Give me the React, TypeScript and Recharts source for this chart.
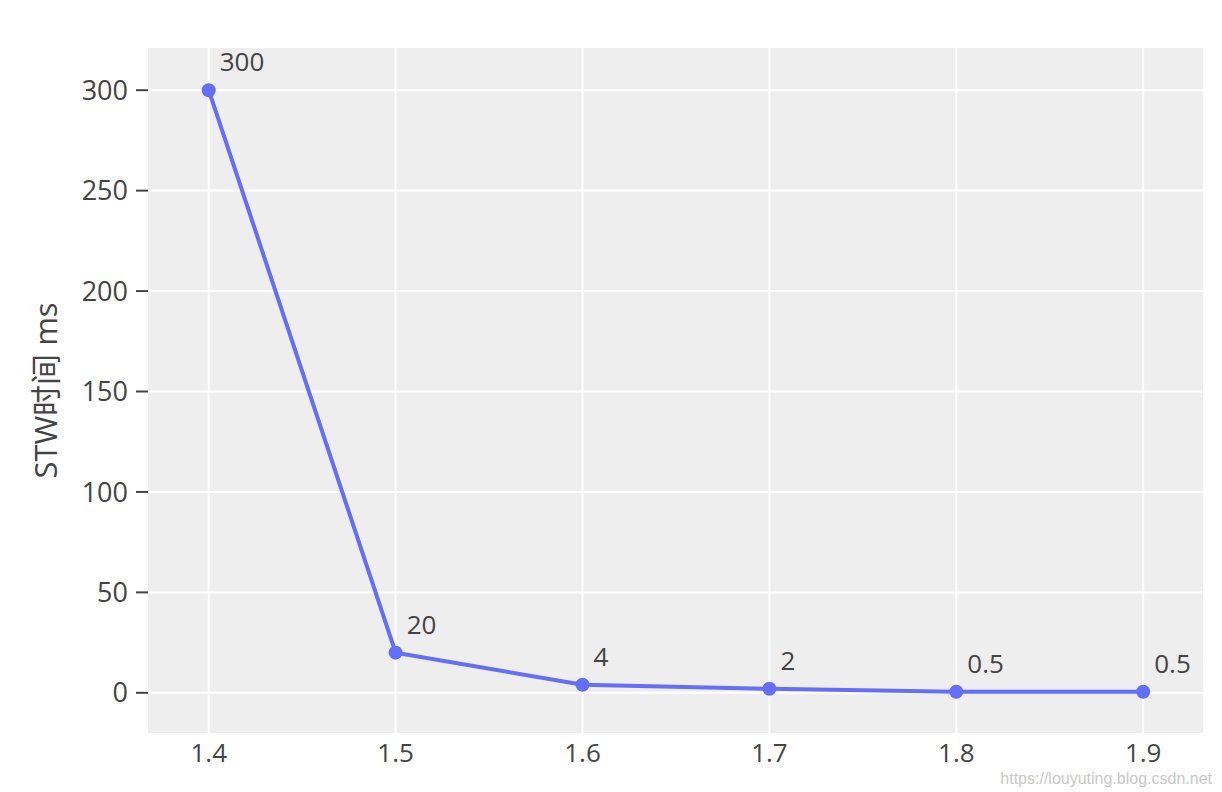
import React from 'react';
import { LineChart, Line, XAxis, YAxis, CartesianGrid, LabelList, Label } from 'recharts';

const versions = [1.4, 1.5, 1.6, 1.7, 1.8, 1.9];
const stwMs = [300, 20, 4, 2, 0.5, 0.5];
const xTicks = [1.4, 1.5, 1.6, 1.7, 1.8, 1.9];
const yTicks = [0, 50, 100, 150, 200, 250, 300];
const yLabel = 'STW时间 ms';
const watermark = 'https://louyuting.blog.csdn.net';

const data = versions.map((v, i) => ({ x: v, y: stwMs[i] }));

const FONT = '"Open Sans", "Noto Sans CJK SC", sans-serif';
const TXT = '#444';

const renderLabel = (props: any) => {
  const { x, y, value } = props;
  return (
    <text x={x + 11} y={y - 19} fill={TXT} fontSize={26} fontFamily={FONT}>
      {value}
    </text>
  );
};

export default function App() {
  return (
    <div style={{ position: 'absolute', left: 0, top: 0, width: 1222, height: 792, background: '#fff' }}>
      <LineChart
        width={1222}
        height={792}
        data={data}
        margin={{ top: 48, right: 19, left: 0, bottom: 0 }}
      >
        <CartesianGrid
          stroke="#ffffff"
          strokeWidth={2}
          fill="#eeeeee"
          fillOpacity={1}
          horizontalValues={yTicks}
          verticalValues={xTicks}
        />
        <XAxis
          dataKey="x"
          type="number"
          domain={[1.3675, 1.932]}
          ticks={xTicks}
          tickFormatter={(v: number) => v.toFixed(1)}
          axisLine={false}
          tickLine={false}
          tickSize={6}
          tickMargin={5}
          height={59}
          tick={{ fill: TXT, fontSize: 26, fontFamily: FONT }}
        />
        <YAxis
          type="number"
          domain={[-20, 321]}
          ticks={yTicks}
          allowDataOverflow
          axisLine={false}
          tickLine={{ stroke: TXT, strokeWidth: 2 }}
          tickSize={12}
          tickMargin={8}
          width={148}
          tick={{ fill: TXT, fontSize: 27, fontFamily: FONT }}
        >
          <Label
            value={yLabel}
            angle={-90}
            position="insideLeft"
            offset={0}
            style={{ fill: TXT, fontSize: 31, fontFamily: FONT, textAnchor: 'middle' }}
            dx={46}
          />
        </YAxis>
        <Line
          type="linear"
          dataKey="y"
          stroke="#636efa"
          strokeWidth={4}
          dot={{ r: 7, fill: '#636efa', stroke: 'none' }}
          isAnimationActive={false}
        >
          <LabelList dataKey="y" content={renderLabel} />
        </Line>
        <text x={1212} y={784} textAnchor="end" fill="#c8c8c8" fontSize={16} fontFamily='"Liberation Sans", Arial, sans-serif'>
          {watermark}
        </text>
      </LineChart>
    </div>
  );
}
